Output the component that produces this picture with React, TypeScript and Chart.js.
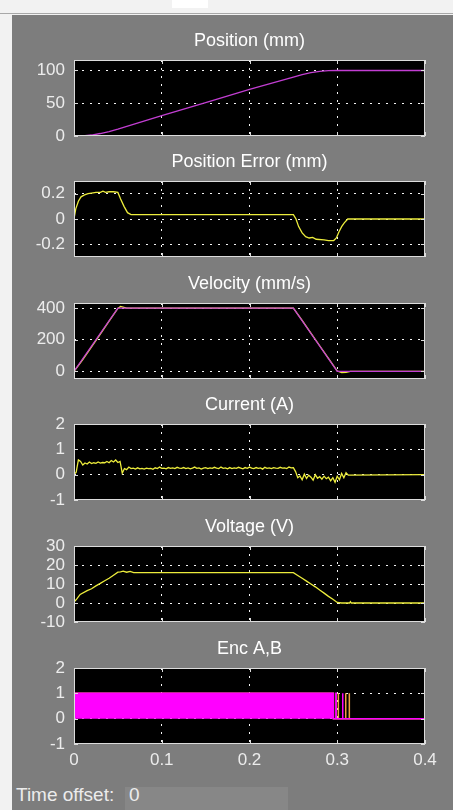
import React, { useEffect, useRef } from "react";
import { Chart, registerables } from "chart.js";

Chart.register(...registerables);

// ---------------- data ----------------
const X_TICKS = [0, 0.1, 0.2, 0.3, 0.4];
const X_TICK_LABELS = ["0", "0.1", "0.2", "0.3", "0.4"];

// Position (mm)
const POS_T = [0, 0.01, 0.02, 0.03, 0.04, 0.05, 0.1, 0.15, 0.2, 0.25, 0.26, 0.27, 0.28, 0.29, 0.3, 0.4];
const POS_V = [0, 0.3, 1.5, 3.8, 6.8, 10.5, 31, 51, 71, 90, 93.8, 96.6, 98.6, 99.7, 100, 100];
const POS_YTICKS = [0, 50, 100];
const POS_YLABELS = ["0", "50", "100"];

// Position Error (mm)
const PERR_T = [0, 0.002, 0.005, 0.008, 0.012, 0.016, 0.02, 0.025, 0.03, 0.033, 0.036, 0.04, 0.045, 0.05, 0.053, 0.057, 0.061, 0.065, 0.1, 0.2, 0.25, 0.253, 0.256, 0.26, 0.264, 0.268, 0.272, 0.276, 0.285, 0.29, 0.296, 0.299, 0.302, 0.305, 0.308, 0.312, 0.4];
const PERR_V = [0, 0.08, 0.14, 0.175, 0.19, 0.2, 0.205, 0.21, 0.21, 0.22, 0.21, 0.215, 0.215, 0.21, 0.16, 0.1, 0.05, 0.035, 0.035, 0.035, 0.035, 0.0, -0.06, -0.11, -0.14, -0.15, -0.145, -0.16, -0.165, -0.17, -0.17, -0.15, -0.1, -0.06, -0.03, 0, 0];
const PERR_YTICKS = [-0.2, 0, 0.2];
const PERR_YLABELS = ["-0.2", "0", "0.2"];

// Velocity (mm/s)
const VEL_CMD_T = [0, 0.05, 0.25, 0.3, 0.4];
const VEL_CMD_V = [0, 400, 400, 0, 0];
const VEL_ACT_T = [0, 0.01, 0.02, 0.03, 0.04, 0.05, 0.053, 0.06, 0.25, 0.26, 0.27, 0.28, 0.29, 0.3, 0.305, 0.31, 0.315, 0.4];
const VEL_ACT_V = [0, 75, 155, 235, 318, 398, 410, 400, 400, 322, 242, 162, 82, 2, -8, -6, 0, 0];
const VEL_YTICKS = [0, 200, 400];
const VEL_YLABELS = ["0", "200", "400"];

// Current (A)
const CUR_T = [
  0, 0.0025, 0.005, 0.0075, 0.01, 0.0125, 0.015, 0.0175, 0.02, 0.0225,
  0.025, 0.0275, 0.03, 0.0325, 0.035, 0.0375, 0.04, 0.0425, 0.045, 0.0475,
  0.05, 0.0525, 0.055, 0.0575, 0.06, 0.0625, 0.065, 0.0675, 0.07, 0.0725,
  0.075, 0.0775, 0.08, 0.0825, 0.085, 0.0875, 0.09, 0.0925, 0.095, 0.0975,
  0.1, 0.1025, 0.105, 0.1075, 0.11, 0.1125, 0.115, 0.1175, 0.12, 0.1225,
  0.125, 0.1275, 0.13, 0.1325, 0.135, 0.1375, 0.14, 0.1425, 0.145, 0.1475,
  0.15, 0.1525, 0.155, 0.1575, 0.16, 0.1625, 0.165, 0.1675, 0.17, 0.1725,
  0.175, 0.1775, 0.18, 0.1825, 0.185, 0.1875, 0.19, 0.1925, 0.195, 0.1975,
  0.2, 0.2025, 0.205, 0.2075, 0.21, 0.2125, 0.215, 0.2175, 0.22, 0.2225,
  0.225, 0.2275, 0.23, 0.2325, 0.235, 0.2375, 0.24, 0.2425, 0.245, 0.2475,
  0.25, 0.2525, 0.255, 0.2575, 0.26, 0.2625, 0.265, 0.2675, 0.27, 0.2725,
  0.275, 0.2775, 0.28, 0.2825, 0.285, 0.2875, 0.29, 0.2925, 0.295, 0.2975,
  0.3, 0.3025, 0.305, 0.3075, 0.31, 0.3125, 0.4,
];
const CUR_V = [
  0, 0.1, 0.58, 0.52, 0.38, 0.46, 0.42, 0.5, 0.44, 0.47,
  0.45, 0.5, 0.46, 0.48, 0.47, 0.52, 0.47, 0.56, 0.5, 0.58,
  0.48, 0.52, 0.06, 0.24, 0.2, 0.3, 0.24, 0.26, 0.22, 0.27,
  0.23, 0.25, 0.22, 0.26, 0.24, 0.25, 0.21, 0.27, 0.24, 0.3,
  0.25, 0.26, 0.23, 0.28, 0.25, 0.27, 0.24, 0.29, 0.26, 0.25,
  0.28, 0.24, 0.27, 0.23, 0.26, 0.3, 0.25, 0.27, 0.22, 0.26,
  0.28, 0.24, 0.27, 0.25, 0.29, 0.26, 0.24, 0.3, 0.25, 0.27,
  0.23, 0.28, 0.24, 0.27, 0.25, 0.29, 0.26, 0.23, 0.28, 0.25,
  0.3, 0.26, 0.24, 0.28, 0.25, 0.27, 0.22, 0.29, 0.25, 0.27,
  0.24, 0.28, 0.26, 0.25, 0.29, 0.26, 0.27, 0.24, 0.3, 0.27,
  0.28, 0.12, -0.12, -0.05, -0.2, 0.02, -0.15, -0.02, -0.1, -0.22,
  0, -0.14, -0.08, -0.18, -0.06, -0.16, -0.1, -0.24, -0.12, -0.3,
  -0.06, -0.2, 0.05, -0.12, 0.08, -0.02, 0,
];
const CUR_YTICKS = [-1, 0, 1, 2];
const CUR_YLABELS = ["-1", "0", "1", "2"];

// Voltage (V)
const VOLT_T = [0, 0.003, 0.007, 0.015, 0.02, 0.025, 0.03, 0.035, 0.04, 0.045, 0.05, 0.053, 0.056, 0.06, 0.064, 0.068, 0.07, 0.1, 0.15, 0.2, 0.25, 0.255, 0.26, 0.265, 0.27, 0.275, 0.28, 0.285, 0.29, 0.295, 0.3, 0.305, 0.314, 0.315, 0.316, 0.4];
const VOLT_V = [0.5, 2, 4.5, 6.5, 7.5, 9, 10.3, 11.7, 13, 14.6, 16.2, 16.4, 16.8, 16.2, 16.6, 16.0, 16, 16, 16, 16, 16, 14.5, 13, 11.5, 10, 8.5, 6.8, 5.2, 3.5, 2, 0.3, 0, 0, 0.7, 0, 0];
const VOLT_YTICKS = [-10, 0, 10, 20, 30];
const VOLT_YLABELS = ["-10", "0", "10", "20", "30"];

// Enc A,B
const ENC_A_T = [0, 0.2955, 0.2955, 0.2984, 0.2984, 0.2988, 0.2988, 0.306, 0.306, 0.3064, 0.3064, 0.4];
const ENC_A_V = [1, 1, 0, 0, 1, 1, 0, 0, 1, 1, 0, 0];
const ENC_B_T = [0, 0.2957, 0.2957, 0.301, 0.301, 0.3014, 0.3014, 0.3094, 0.3094, 0.3098, 0.3098, 0.3135, 0.3135, 0.3139, 0.3139, 0.4];
const ENC_B_V = [1, 1, 0, 0, 1, 1, 0, 0, 1, 1, 0, 0, 1, 1, 0, 0];
const ENC_YTICKS = [-1, 0, 1, 2];
const ENC_YLABELS = ["-1", "0", "1", "2"];

// ---------------- styling ----------------
const FONT = "'Liberation Sans', Arial, sans-serif";
const PANEL = "#7d7d7d";
const MAGENTA = "#c23ed2";
const YELLOW = "#ecec3c";
const ENC_MAGENTA = "#ff00ff";
const ENC_ORANGE = "#f0a040";
const GRID = "#f4f4f4";
const FRAME = "#dcdcdc";
const TEXT = "#ececec";

const TITLE_H = 28;
const CANVAS_LEFT = 12;
const CANVAS_W = 441;
const Y_AXIS_W = 62;
const RIGHT_PAD = 28;

type Series = { t: number[]; v: number[]; color: string; width?: number; fill?: string };
type Sub = {
  title: string;
  top: number;
  height: number;
  yMin: number;
  yMax: number;
  yTicks: number[];
  yLabels: string[];
  series: Series[];
  showX?: boolean;
};

const scopePlugin = {
  id: "scopeFrame",
  beforeDraw(chart: any) {
    const { ctx, chartArea: a } = chart;
    ctx.save();
    ctx.fillStyle = "#000000";
    ctx.fillRect(a.left, a.top, a.right - a.left, a.bottom - a.top);
    ctx.restore();
  },
  afterDraw(chart: any) {
    const { ctx, chartArea: a, scales } = chart;
    ctx.save();
    ctx.strokeStyle = FRAME;
    ctx.lineWidth = 1;
    ctx.strokeRect(a.left + 0.5, a.top + 0.5, a.right - a.left - 1, a.bottom - a.top - 1);
    const L = 4;
    ctx.beginPath();
    for (const tk of scales.x.ticks) {
      const px = Math.round(scales.x.getPixelForValue(tk.value)) + 0.5;
      ctx.moveTo(px, a.bottom);
      ctx.lineTo(px, a.bottom - L);
      ctx.moveTo(px, a.top);
      ctx.lineTo(px, a.top + L);
    }
    for (const tk of scales.y.ticks) {
      const py = Math.round(scales.y.getPixelForValue(tk.value)) + 0.5;
      ctx.moveTo(a.left, py);
      ctx.lineTo(a.left + L, py);
      ctx.moveTo(a.right, py);
      ctx.lineTo(a.right - L, py);
    }
    ctx.stroke();
    ctx.restore();
  },
};

const gridColor = (min: number, max: number) => (c: any) => {
  const v = c.tick ? c.tick.value : undefined;
  if (v === undefined) return GRID;
  const eps = (max - min) * 1e-6;
  return Math.abs(v - min) < eps || Math.abs(v - max) < eps ? "rgba(0,0,0,0)" : GRID;
};

function Subplot({ cfg }: { cfg: Sub }) {
  const ref = useRef<HTMLCanvasElement>(null);
  const showX = !!cfg.showX;
  const bottomPad = showX ? 0 : 12;
  const xAxisH = showX ? 30 : 0;
  const canvasH = TITLE_H + cfg.height + bottomPad + xAxisH;

  useEffect(() => {
    const datasets = cfg.series.map((s, i) => ({
      data: s.t.map((x, k) => ({ x, y: s.v[k] })),
      borderColor: s.color,
      backgroundColor: s.fill || "rgba(0,0,0,0)",
      fill: s.fill ? "origin" : false,
      borderWidth: s.width ?? 1.3,
      pointRadius: 0,
      tension: 0,
      order: i,
    }));
    const chart = new Chart(ref.current as HTMLCanvasElement, {
      type: "line",
      data: { datasets } as any,
      options: {
        responsive: false,
        animation: false,
        events: [],
        layout: { padding: { left: 0, right: RIGHT_PAD, top: 0, bottom: bottomPad } },
        plugins: {
          legend: { display: false },
          tooltip: { enabled: false },
          title: {
            display: true,
            text: cfg.title,
            color: "#ffffff",
            fullSize: false,
            font: { family: FONT, size: 18, weight: "normal", lineHeight: 1 },
            padding: { top: 0, bottom: 10 },
          },
        },
        scales: {
          x: {
            type: "linear",
            min: 0,
            max: 0.4,
            afterBuildTicks: (s: any) => {
              s.ticks = X_TICKS.map((v) => ({ value: v }));
            },
            afterFit: (s: any) => {
              s.height = xAxisH;
              s.paddingLeft = 0;
              s.paddingRight = 0;
            },
            ticks: {
              display: showX,
              autoSkip: false,
              maxRotation: 0,
              padding: 6,
              color: TEXT,
              font: { family: FONT, size: 17 },
              callback: (v: any) => X_TICK_LABELS[X_TICKS.indexOf(v)] ?? "",
            },
            grid: { color: gridColor(0, 0.4), lineWidth: 1, drawTicks: false },
            border: { display: false, dash: [2, 6] },
          },
          y: {
            type: "linear",
            min: cfg.yMin,
            max: cfg.yMax,
            afterBuildTicks: (s: any) => {
              s.ticks = cfg.yTicks.map((v) => ({ value: v }));
            },
            afterFit: (s: any) => {
              s.width = Y_AXIS_W;
              s.paddingTop = 0;
              s.paddingBottom = 0;
            },
            ticks: {
              autoSkip: false,
              padding: 9,
              color: TEXT,
              font: { family: FONT, size: 17 },
              callback: (v: any) => cfg.yLabels[cfg.yTicks.indexOf(v)] ?? "",
            },
            grid: { color: gridColor(cfg.yMin, cfg.yMax), lineWidth: 1, drawTicks: false },
            border: { display: false, dash: [2, 6] },
          },
        },
      } as any,
      plugins: [scopePlugin],
    });
    return () => chart.destroy();
  }, []);

  return (
    <canvas
      ref={ref}
      width={CANVAS_W}
      height={canvasH}
      style={{
        position: "absolute",
        left: CANVAS_LEFT,
        top: cfg.top - TITLE_H,
        width: CANVAS_W,
        height: canvasH,
      }}
    />
  );
}

const SUBPLOTS: Sub[] = [
  {
    title: "Position (mm)", top: 60, height: 76, yMin: 0, yMax: 116,
    yTicks: POS_YTICKS, yLabels: POS_YLABELS,
    series: [{ t: POS_T, v: POS_V, color: MAGENTA }],
  },
  {
    title: "Position Error (mm)", top: 181, height: 76, yMin: -0.3, yMax: 0.3,
    yTicks: PERR_YTICKS, yLabels: PERR_YLABELS,
    series: [{ t: PERR_T, v: PERR_V, color: YELLOW }],
  },
  {
    title: "Velocity (mm/s)", top: 303, height: 76, yMin: -48, yMax: 432,
    yTicks: VEL_YTICKS, yLabels: VEL_YLABELS,
    series: [
      { t: VEL_CMD_T, v: VEL_CMD_V, color: MAGENTA },
      { t: VEL_ACT_T, v: VEL_ACT_V, color: YELLOW },
    ],
  },
  {
    title: "Current (A)", top: 424, height: 76, yMin: -1, yMax: 2,
    yTicks: CUR_YTICKS, yLabels: CUR_YLABELS,
    series: [{ t: CUR_T, v: CUR_V, color: YELLOW }],
  },
  {
    title: "Voltage (V)", top: 546, height: 76, yMin: -10, yMax: 30,
    yTicks: VOLT_YTICKS, yLabels: VOLT_YLABELS,
    series: [{ t: VOLT_T, v: VOLT_V, color: YELLOW }],
  },
  {
    title: "Enc A,B", top: 668, height: 76, yMin: -1, yMax: 2,
    yTicks: ENC_YTICKS, yLabels: ENC_YLABELS, showX: true,
    series: [
      { t: ENC_A_T, v: ENC_A_V, color: ENC_MAGENTA, fill: ENC_MAGENTA, width: 1.5 },
      { t: ENC_B_T, v: ENC_B_V, color: ENC_ORANGE, width: 1.5 },
    ],
  },
];

export default function App() {
  return (
    <div
      style={{
        position: "fixed",
        left: 0,
        top: 0,
        width: 453,
        height: 810,
        overflow: "hidden",
        background: "#f2f2f2",
        fontFamily: FONT,
      }}
    >
      <div style={{ position: "absolute", left: 0, top: 13, width: 453, height: 1, background: "#a8a8a8" }} />
      <div style={{ position: "absolute", left: 172, top: 0, width: 36, height: 8, background: "#ffffff" }} />
      <div style={{ position: "absolute", left: 12, top: 15, right: 0, bottom: 0, background: PANEL }} />
      {SUBPLOTS.map((s, i) => (
        <Subplot key={i} cfg={s} />
      ))}
      <div style={{ position: "absolute", left: 125, top: 787, width: 163, height: 23, background: "#878787" }} />
      <div style={{ position: "absolute", left: 16, top: 785, fontSize: 19, lineHeight: "20px", color: TEXT, whiteSpace: "nowrap" }}>
        Time offset:
      </div>
      <div style={{ position: "absolute", left: 129, top: 785, fontSize: 19, lineHeight: "20px", color: TEXT }}>0</div>
    </div>
  );
}
